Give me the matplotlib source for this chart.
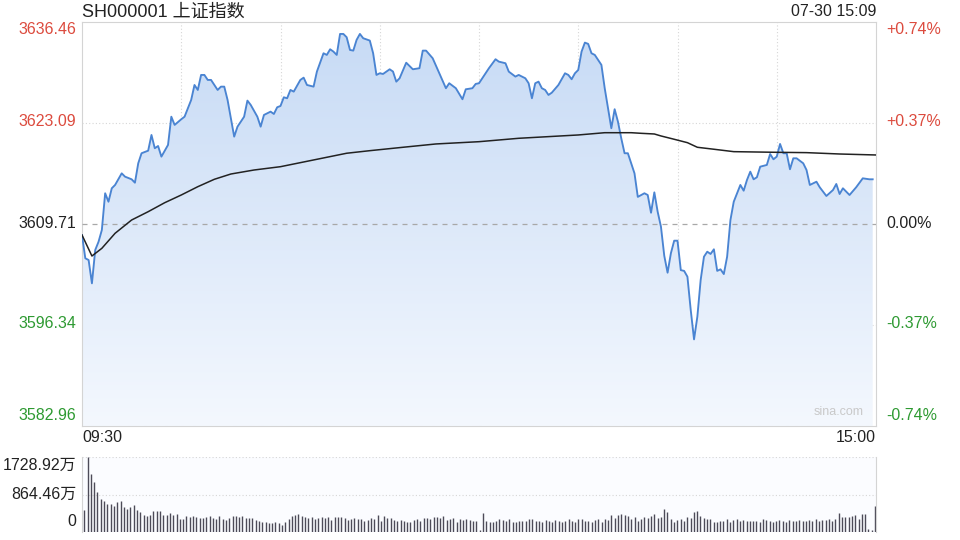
import numpy as np
import matplotlib.pyplot as plt
from matplotlib.colors import LinearSegmentedColormap

plt.rcParams['font.family'] = ['Liberation Sans', 'Noto Sans CJK SC']

# ---- data ----
title = 'SH000001 上证指数'
stamp = '07-30 15:09'
prev_close = 3609.71
y_lo, y_hi = 3582.96, 3636.46
price_ticks = [3636.46, 3623.09, 3609.71, 3596.34, 3582.96]
pct_ticks = ['+0.74%', '+0.37%', '0.00%', '-0.37%', '-0.74%']
vol_max = 1728.92
vol_labels = ['1728.92万', '864.46万', '0']

# minutes after 09:30 (lunch break removed, 0..240)
price_min = [0, 1, 2, 3, 4, 5, 6, 7, 8, 9, 10, 12, 13, 15, 16, 17, 18, 20, 21, 22,
             23, 24, 26, 27, 28, 30, 31, 33, 34, 35, 36, 37, 38, 39, 41, 42, 43, 44, 46, 47,
             49, 50, 51, 53, 54, 55, 57, 58, 59, 60, 61, 62, 63, 64, 66, 67, 68, 70, 71, 73,
             74, 75, 76, 77, 78, 79, 80, 81, 82, 83, 84, 85, 87, 88, 89, 90, 91, 93, 94, 95,
             96, 98, 100, 102, 103, 104, 106, 108, 110, 111, 113, 115, 116, 118, 119, 120, 122, 123, 125, 126,
             128, 129, 131, 132, 134, 135, 136, 137, 138, 139, 140, 141, 142, 144, 146, 147, 148, 149, 150, 151,
             152, 153, 154, 155, 157, 158, 160, 161, 162, 163, 164, 165, 167, 168, 170, 171, 172, 173, 174, 175,
             176, 177, 178, 179, 180, 181, 182, 183, 184, 185, 186, 187, 188, 189, 190, 191, 192, 193, 194, 195,
             196, 197, 199, 200, 201, 202, 203, 204, 205, 207, 208, 209, 210, 211, 212, 213, 214, 215, 216, 218,
             219, 220, 222, 223, 225, 227, 228, 229, 230, 231, 232, 234, 236, 238, 239]
price = [3608.25, 3605.17, 3604.94, 3601.85, 3606.27, 3607.36, 3608.92, 3613.78, 3612.66, 3614.44,
         3614.88, 3616.42, 3615.98, 3615.63, 3615.18, 3617.75, 3619.08, 3619.42, 3621.50, 3619.74,
         3620.04, 3618.63, 3620.18, 3623.92, 3622.83, 3623.58, 3623.92, 3626.14, 3628.12, 3627.46,
         3629.45, 3629.45, 3628.79, 3628.79, 3627.46, 3627.90, 3627.90, 3626.14, 3621.28, 3622.60,
         3623.92, 3626.05, 3625.48, 3623.92, 3622.60, 3624.15, 3624.59, 3624.28, 3625.17, 3625.34,
         3626.49, 3626.36, 3627.46, 3627.24, 3628.79, 3629.09, 3628.12, 3627.90, 3629.89, 3632.32,
         3632.10, 3632.85, 3632.54, 3632.10, 3634.88, 3634.88, 3634.44, 3632.76, 3632.67, 3634.09,
         3634.88, 3634.31, 3634.00, 3632.32, 3629.45, 3629.67, 3629.58, 3630.20, 3629.90, 3628.56,
         3629.01, 3631.07, 3630.20, 3630.34, 3632.67, 3632.67, 3631.66, 3629.67, 3627.69, 3628.35,
         3627.69, 3626.23, 3627.55, 3627.69, 3628.26, 3628.35, 3629.67, 3630.34, 3631.53, 3631.21,
         3631.00, 3629.89, 3629.23, 3629.45, 3629.01, 3628.35, 3626.36, 3628.35, 3628.56, 3627.69,
         3627.46, 3626.80, 3627.10, 3628.12, 3629.67, 3629.45, 3628.88, 3629.67, 3630.11, 3632.54,
         3633.73, 3633.56, 3632.32, 3632.10, 3630.78, 3627.69, 3622.39, 3624.91, 3623.26, 3621.06,
         3619.08, 3619.08, 3616.42, 3613.30, 3613.78, 3613.55, 3611.20, 3613.90, 3611.34, 3609.35,
         3605.50, 3603.26, 3605.83, 3607.50, 3607.50, 3603.60, 3603.50, 3602.73, 3598.32, 3594.43,
         3597.43, 3602.29, 3605.38, 3606.04, 3605.74, 3606.36, 3603.50, 3603.71, 3603.08, 3605.38,
         3610.24, 3612.66, 3614.88, 3614.12, 3615.54, 3616.64, 3615.63, 3615.90, 3617.30, 3617.53,
         3618.98, 3618.28, 3618.63, 3620.31, 3619.08, 3619.08, 3616.96, 3618.41, 3618.41, 3617.75,
         3616.86, 3614.88, 3615.31, 3614.57, 3613.42, 3614.21, 3615.01, 3613.68, 3614.44, 3613.99,
         3613.55, 3614.57, 3615.76, 3615.63, 3615.63]

avg_min = [0, 3, 6, 10, 15, 20, 25, 30, 35, 40, 45, 52, 60, 70, 80, 87, 97, 107, 120, 132,
           150, 158, 166, 169, 173, 175, 179, 183, 186, 191, 197, 209, 219, 229, 240]
avg_price = [3608.25, 3605.47, 3606.49, 3608.48, 3610.24, 3611.34, 3612.53, 3613.55, 3614.65, 3615.63,
             3616.33, 3616.86, 3617.30, 3618.19, 3619.08, 3619.42, 3619.87, 3620.31, 3620.61, 3621.06,
             3621.50, 3621.80, 3621.80, 3621.72, 3621.63, 3621.37, 3620.93, 3620.48, 3619.87, 3619.61,
             3619.29, 3619.21, 3619.16, 3618.98, 3618.85]

# volume per minute, in 万
volume = [507, 1729, 1337, 1152, 922, 760, 714, 645, 645, 606,
          684, 714, 576, 537, 583, 614, 507, 468, 392, 369,
          392, 476, 476, 476, 391, 400, 430, 392, 415, 307,
          300, 369, 346, 369, 353, 315, 315, 353, 376, 330,
          307, 369, 300, 277, 323, 369, 376, 353, 369, 330,
          323, 315, 277, 246, 238, 238, 215, 200, 223, 200,
          161, 238, 300, 376, 392, 407, 369, 353, 315, 353,
          292, 330, 338, 315, 346, 277, 353, 338, 346, 323,
          277, 300, 315, 300, 292, 246, 277, 315, 300, 392,
          261, 361, 330, 323, 277, 261, 277, 246, 238, 230,
          277, 300, 261, 315, 330, 307, 353, 346, 323, 361,
          269, 300, 315, 238, 300, 269, 292, 277, 261, 246,
          50, 445, 250, 238, 238, 261, 300, 277, 261, 292,
          238, 238, 246, 246, 261, 300, 292, 261, 246, 238,
          277, 261, 238, 277, 246, 238, 261, 292, 246, 238,
          300, 292, 261, 246, 238, 277, 300, 230, 300, 277,
          392, 330, 392, 407, 392, 376, 300, 353, 261, 300,
          353, 330, 376, 415, 323, 346, 522, 461, 300, 238,
          269, 300, 261, 346, 330, 468, 484, 361, 315, 300,
          292, 238, 230, 246, 261, 300, 238, 269, 292, 261,
          277, 246, 246, 246, 261, 238, 292, 269, 261, 238,
          246, 269, 261, 238, 277, 261, 246, 277, 261, 246,
          269, 261, 292, 261, 277, 269, 292, 261, 300, 438,
          353, 338, 353, 376, 400, 292, 415, 415, 60, 40,
          607]

# ---- layout ----
W, H = 960, 540
red, green, dark = '#dc4b3e', '#2e9a32', '#222222'
line_blue = '#4a84d2'
grid_c = '#d6d6d6'
fs = 11.5


def fx(x):
    return x / W


def fy(y):
    return 1 - y / H


fig = plt.figure(figsize=(9.6, 5.4), dpi=100)
ax = fig.add_axes([fx(82), fy(426), 794 / W, 404 / H])
axv = fig.add_axes([fx(82), fy(532), 794 / W, 75 / H])

# main panel
ax.set_xlim(0, 240)
ax.set_ylim(y_lo, y_hi)
for m in range(30, 240, 30):
    ax.axvline(m, color=grid_c, lw=0.8, ls=(0, (1, 2)), zorder=0)
for p in [price_ticks[1], price_ticks[3]]:
    ax.axhline(p, color=grid_c, lw=0.8, ls=(0, (1, 2)), zorder=0)
ax.axhline(prev_close, color='#a8a8a8', lw=0.9, ls=(0, (4, 4)), zorder=3)

cmap = LinearSegmentedColormap.from_list('fade', ['#f4f8fe', '#c6daf5'])
fill = ax.fill_between(price_min, price, y_lo, color='none', lw=0)
grad = np.linspace(0, 1, 256).reshape(-1, 1)
im = ax.imshow(grad, extent=[0, 240, y_lo, y_hi], origin='lower', aspect='auto',
               cmap=cmap, zorder=1)
im.set_clip_path(fill.get_paths()[0], transform=ax.transData)

ax.plot(price_min, price, color=line_blue, lw=1.35, zorder=4)
ax.plot(avg_min, avg_price, color=dark, lw=1.1, zorder=5)

ax.set_xticks([])
ax.set_yticks([])
for s in ax.spines.values():
    s.set_color('#d4d4d4')
    s.set_linewidth(0.8)

ax.text(0.985, 0.02, 'sina.com', transform=ax.transAxes, ha='right', va='bottom',
        fontsize=9, color='#c9c9c9')

# price / percent labels
label_y = [30, 122, 224, 324, 416]
for i, (p, q) in enumerate(zip(price_ticks, pct_ticks)):
    c = red if p > prev_close else (green if p < prev_close else dark)
    fig.text(fx(76), fy(label_y[i]), f'{p:.2f}', ha='right', va='center', fontsize=fs, color=c)
    fig.text(fx(886), fy(label_y[i]), q, ha='left', va='center', fontsize=fs, color=c)

fig.text(fx(82), fy(12), title, ha='left', va='center', fontsize=13, color=dark)
fig.text(fx(876), fy(12), stamp, ha='right', va='center', fontsize=fs, color=dark)
fig.text(fx(82), fy(438), '09:30', ha='left', va='center', fontsize=fs, color=dark)
fig.text(fx(876), fy(438), '15:00', ha='right', va='center', fontsize=fs, color=dark)

# volume panel
axv.set_xlim(-0.7, 240.3)
axv.set_ylim(0, vol_max)
axv.vlines(np.arange(len(volume)), 0, volume, color='#4d4b58', lw=1.0)
for v in [vol_max, vol_max / 2]:
    axv.axhline(v, color=grid_c, lw=0.8, ls=(0, (1, 2)), zorder=0)
axv.set_xticks([])
axv.set_yticks([])
axv.set_facecolor('#fbfcff')
for k in ['top', 'bottom']:
    axv.spines[k].set_visible(False)
for k in ['left', 'right']:
    axv.spines[k].set_color('#d4d4d4')
    axv.spines[k].set_linewidth(0.8)

for lab, y in zip(vol_labels, [465, 494, 521]):
    fig.text(fx(76), fy(y), lab, ha='right', va='center', fontsize=fs, color=dark)

fig.savefig('out.png', dpi=100, facecolor='white')
